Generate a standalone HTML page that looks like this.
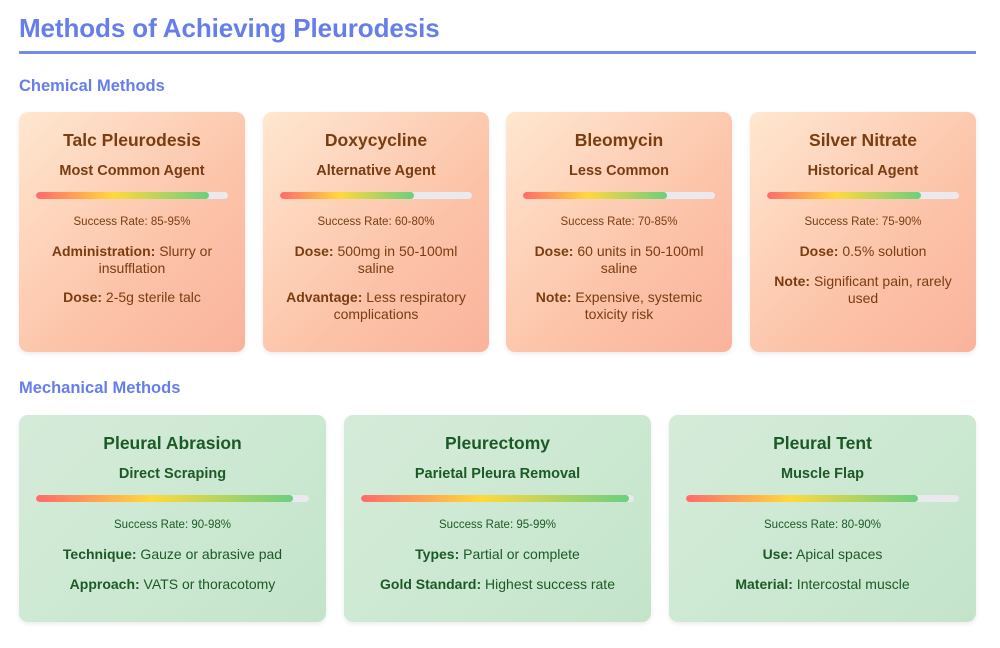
<!DOCTYPE html>
<html><head><meta charset="utf-8"><style>
*{margin:0;padding:0;box-sizing:border-box}
body{width:1000px;height:648px;background:#fff;font-family:"Liberation Sans",Tahoma,sans-serif;position:relative;overflow:hidden}
h1{position:absolute;left:19px;top:13px;font-size:26px;color:#667eea;font-weight:bold;letter-spacing:-0.1px}
.rule{position:absolute;left:19px;top:51px;width:957px;height:3px;background:#667eea;opacity:.9}
.sec{position:absolute;left:19px;font-size:16.5px;font-weight:bold;color:#667eea}
.card{position:absolute;border-radius:9px;text-align:center;box-shadow:0 2px 5px rgba(0,0,0,.08)}
.chem{background:linear-gradient(135deg,#ffe7d0 0%,#fcc3a8 60%,#fab39c 100%);color:#7b3c10;height:240px;width:226px;top:112px}
.mech{background:linear-gradient(135deg,#d5ebd9 0%,#cbe8d1 60%,#c3e4ca 100%);color:#1c5a25;height:207px;width:307px;top:415px}
.t{position:absolute;left:0;right:0;font-size:17.5px;font-weight:bold}
.s{position:absolute;left:0;right:0;font-size:14.5px;font-weight:bold}
.bar{position:absolute;left:17px;right:17px;height:7px;border-radius:4px;background:#e9e9ee;overflow:hidden}
.bar i{display:block;height:100%;border-radius:4px;background:linear-gradient(90deg,#ff6b6b,#ffd93d 45%,#6bcf7f)}
.r{position:absolute;left:0;right:0;font-size:11.5px}
.d{position:absolute;left:22px;right:22px;font-size:14px;line-height:17px}
</style></head><body>
<h1>Methods of Achieving Pleurodesis</h1>
<div class="rule"></div>
<div class="sec" style="top:77px">Chemical Methods</div>

<div class="card chem" style="left:19px">
<div class="t" style="top:18px">Talc Pleurodesis</div>
<div class="s" style="top:51px">Most Common Agent</div>
<div class="bar" style="top:80px"><i style="width:90%"></i></div>
<div class="r" style="top:104px">Success Rate: 85-95%</div>
<div class="d" style="top:131px"><b>Administration:</b> Slurry or insufflation</div>
<div class="d" style="top:177px"><b>Dose:</b> 2-5g sterile talc</div>
</div>

<div class="card chem" style="left:263px">
<div class="t" style="top:18px">Doxycycline</div>
<div class="s" style="top:51px">Alternative Agent</div>
<div class="bar" style="top:80px"><i style="width:70%"></i></div>
<div class="r" style="top:104px">Success Rate: 60-80%</div>
<div class="d" style="top:131px"><b>Dose:</b> 500mg in 50-100ml saline</div>
<div class="d" style="top:177px"><b>Advantage:</b> Less respiratory complications</div>
</div>

<div class="card chem" style="left:506px">
<div class="t" style="top:18px">Bleomycin</div>
<div class="s" style="top:51px">Less Common</div>
<div class="bar" style="top:80px"><i style="width:75%"></i></div>
<div class="r" style="top:104px">Success Rate: 70-85%</div>
<div class="d" style="top:131px"><b>Dose:</b> 60 units in 50-100ml saline</div>
<div class="d" style="top:177px"><b>Note:</b> Expensive, systemic toxicity risk</div>
</div>

<div class="card chem" style="left:750px">
<div class="t" style="top:18px">Silver Nitrate</div>
<div class="s" style="top:51px">Historical Agent</div>
<div class="bar" style="top:80px"><i style="width:80%"></i></div>
<div class="r" style="top:104px">Success Rate: 75-90%</div>
<div class="d" style="top:131px"><b>Dose:</b> 0.5% solution</div>
<div class="d" style="top:161px"><b>Note:</b> Significant pain, rarely used</div>
</div>

<div class="sec" style="top:379px">Mechanical Methods</div>

<div class="card mech" style="left:19px">
<div class="t" style="top:18px">Pleural Abrasion</div>
<div class="s" style="top:51px">Direct Scraping</div>
<div class="bar" style="top:80px"><i style="width:94%"></i></div>
<div class="r" style="top:104px">Success Rate: 90-98%</div>
<div class="d" style="top:131px"><b>Technique:</b> Gauze or abrasive pad</div>
<div class="d" style="top:161px"><b>Approach:</b> VATS or thoracotomy</div>
</div>

<div class="card mech" style="left:344px">
<div class="t" style="top:18px">Pleurectomy</div>
<div class="s" style="top:51px">Parietal Pleura Removal</div>
<div class="bar" style="top:80px"><i style="width:98%"></i></div>
<div class="r" style="top:104px">Success Rate: 95-99%</div>
<div class="d" style="top:131px"><b>Types:</b> Partial or complete</div>
<div class="d" style="top:161px"><b>Gold Standard:</b> Highest success rate</div>
</div>

<div class="card mech" style="left:669px">
<div class="t" style="top:18px">Pleural Tent</div>
<div class="s" style="top:51px">Muscle Flap</div>
<div class="bar" style="top:80px"><i style="width:85%"></i></div>
<div class="r" style="top:104px">Success Rate: 80-90%</div>
<div class="d" style="top:131px"><b>Use:</b> Apical spaces</div>
<div class="d" style="top:161px"><b>Material:</b> Intercostal muscle</div>
</div>
</body></html>
